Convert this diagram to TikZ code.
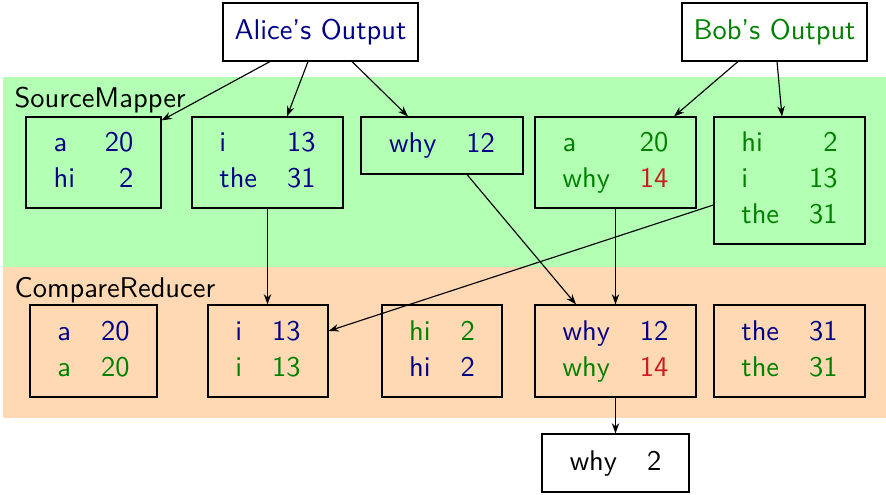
\documentclass[tikz,border=0pt]{standalone}
\usetikzlibrary{arrows.meta,calc}
\definecolor{alicec}{RGB}{0,0,135}
\definecolor{bobc}{RGB}{0,128,0}
\definecolor{diffc}{RGB}{200,30,30}
\definecolor{mapbg}{RGB}{179,255,179}
\definecolor{redbg}{RGB}{255,217,179}
\newcommand{\A}[1]{\textcolor{alicec}{#1}}
\newcommand{\B}[1]{\textcolor{bobc}{#1}}
\newcommand{\R}[1]{\textcolor{diffc}{#1}}
\newcommand{\kv}[1]{\renewcommand{\arraystretch}{1.05}\begin{tabular}{@{}l@{\hspace{1.05em}}r@{}}#1\end{tabular}}
\begin{document}
\begin{tikzpicture}[x=0.351pt,y=-0.351pt,
  every node/.style={font=\sffamily},
  box/.style={draw=black, line width=0.4pt, inner sep=0pt, align=center},
  wd/.style={minimum width=#1*0.351pt},
  ht/.style={minimum height=#1*0.351pt},
  bandlabel/.style={anchor=base west, inner sep=0pt},
  arr/.style={-{Stealth[length=3.6pt,width=2.6pt]}, line width=0.4pt}]
\useasboundingbox (0,0) rectangle (886,495);
\fill[mapbg] (3,77) rectangle (886,267);
\fill[redbg] (3,267) rectangle (886,418);
\node[bandlabel] (smlab) at (14,108) {SourceMapper};
\node[bandlabel] (crlab) at (14,298) {CompareReducer};

\node[box, wd=195, ht=58] (alice) at (320.5,32) {\A{Alice's Output}};
\node[box, wd=185, ht=58] (bob) at (774.5,32) {\B{Bob's Output}};

\node[box, wd=135, ht=91] (sm1) at (93.5,162.5) {\kv{\A{a} & \A{20}\\ \A{hi} & \A{2}}};
\node[box, wd=151, ht=91] (sm2) at (267.5,162.5) {\kv{\A{i} & \A{13}\\ \A{the} & \A{31}}};
\node[box, wd=162, ht=57] (sm3) at (442,145.5) {\kv{\A{why} & \A{12}}};
\node[box, wd=161, ht=91] (sm4) at (615.5,162.5) {\kv{\B{a} & \B{20}\\ \B{why} & \R{14}}};
\node[box, wd=151, ht=127] (sm5) at (789.5,180.5) {\kv{\B{hi} & \B{2}\\ \B{i} & \B{13}\\ \B{the} & \B{31}}};

\node[box, wd=127, ht=92] (cr1) at (93.5,351) {\kv{\A{a} & \A{20}\\ \B{a} & \B{20}}};
\node[box, wd=120, ht=92] (cr2) at (268,351) {\kv{\A{i} & \A{13}\\ \B{i} & \B{13}}};
\node[box, wd=120, ht=92] (cr3) at (442,351) {\kv{\B{hi} & \B{2}\\ \A{hi} & \A{2}}};
\node[box, wd=161, ht=92] (cr4) at (615.5,351) {\kv{\A{why} & \A{12}\\ \B{why} & \R{14}}};
\node[box, wd=151, ht=92] (cr5) at (789.5,351) {\kv{\A{the} & \A{31}\\ \B{the} & \B{31}}};

\node[box, wd=147, ht=58, fill=white] (fin) at (615.5,463) {\kv{why & 2}};

\draw[arr] ($(alice.south)+(-50.5,0)$) -- ($(sm1.north east)+(0,4)$);
\draw[arr] ($(alice.south)+(-12.5,0)$) -- ($(sm2.north)+(19.5,0)$);
\draw[arr] ($(alice.south)+(31.5,0)$) -- ($(sm3.north)+(-34,0)$);
\draw[arr] ($(bob.south)+(-36.5,0)$) -- ($(sm4.north)+(58.5,0)$);
\draw[arr] ($(bob.south)+(2.5,0)$) -- ($(sm5.north)+(-7.5,0)$);
\draw[arr] (sm2.south) -- (sm2.south |- cr2.north);
\draw[arr] ($(sm3.south)+(25,0)$) -- ($(cr4.north)+(-39.5,0)$);
\draw[arr] (sm4.south) -- (cr4.north);
\draw[arr] ($(sm5.west)+(0,24.5)$) -- ($(cr2.east)+(0,-20)$);
\draw[arr] (cr4.south) -- (fin.north);
\end{tikzpicture}
\end{document}
